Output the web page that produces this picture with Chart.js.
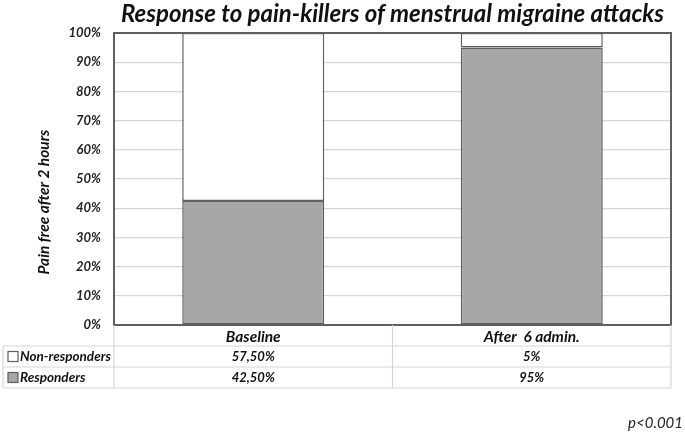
<!DOCTYPE html>
<html>
<head>
<meta charset="utf-8">
<script src="https://cdn.jsdelivr.net/npm/chart.js@4.4.0/dist/chart.umd.min.js"></script>
<style>
  html, body { margin: 0; padding: 0; background: #fff; }
  #wrap { width: 685px; height: 433px; }
</style>
</head>
<body>
<div id="wrap"><canvas id="chart" width="685" height="433"></canvas></div>
<script>
// data
var categories = ['Baseline', 'After  6 admin.'];
var responders = [42.5, 95];
var nonResponders = [57.5, 5];
var yTicks = [0, 10, 20, 30, 40, 50, 60, 70, 80, 90, 100];

var chartTitle = 'Response to pain-killers of menstrual migraine attacks';
var yTitle = 'Pain free after 2 hours';
var pValue = 'p<0.001';

var FONT = 'Lato, "Open Sans", sans-serif';
var EDGE = '#5f5f5f';
var GRID = '#d6d6d6';

function fmt(v) {
    return Number.isInteger(v) ? v + '%' : v.toFixed(2).replace('.', ',') + '%';
}

// title, plot frame, axis title, data table and p value
var extras = {
    id: 'extras',
    beforeDatasetsDraw: function(chart) {
        var ctx = chart.ctx;
        var a = chart.chartArea;
        ctx.save();
        ctx.strokeStyle = EDGE;
        ctx.lineWidth = 2;
        ctx.strokeRect(a.left, a.top, a.right - a.left, a.bottom - a.top);
        ctx.restore();
    },
    afterDraw: function(chart) {
        var ctx = chart.ctx;
        var a = chart.chartArea;
        var x = chart.scales.x;
        ctx.save();

        // title
        ctx.fillStyle = '#111';
        ctx.font = 'italic bold 24px ' + FONT;
        ctx.textAlign = 'center';
        ctx.textBaseline = 'middle';
        ctx.fillText(chartTitle, (a.left + a.right) / 2, 14);

        // y axis title
        ctx.save();
        ctx.translate(44, 202);
        ctx.rotate(-Math.PI / 2);
        ctx.font = 'italic bold 15.5px ' + FONT;
        ctx.fillText(yTitle, 0, 0);
        ctx.restore();

        // table grid
        var rowH = 21;
        var r0 = a.bottom, r1 = r0 + rowH, r2 = r1 + rowH, r3 = r2 + rowH;
        var mid = (x.getPixelForValue(0) + x.getPixelForValue(1)) / 2;
        var tl = 3;
        ctx.strokeStyle = GRID;
        ctx.lineWidth = 1.2;
        ctx.beginPath();
        [r1, r2, r3].forEach(function(y) { ctx.moveTo(tl, y); ctx.lineTo(a.right, y); });
        ctx.moveTo(tl, r1); ctx.lineTo(tl, r3);
        [a.left, mid, a.right].forEach(function(xx) { ctx.moveTo(xx, r0); ctx.lineTo(xx, r3); });
        ctx.stroke();

        // category labels
        ctx.fillStyle = '#111';
        ctx.font = 'italic bold 15.5px ' + FONT;
        categories.forEach(function(c, i) {
            ctx.fillText(c, x.getPixelForValue(i), r0 + rowH / 2 + 1);
        });

        // rows: legend key + values
        var rows = [
            { label: 'Non-responders', fill: '#ffffff', vals: nonResponders, y: r1 + rowH / 2 },
            { label: 'Responders', fill: '#a6a6a6', vals: responders, y: r2 + rowH / 2 }
        ];
        rows.forEach(function(r) {
            ctx.fillStyle = r.fill;
            ctx.fillRect(8, r.y - 5, 10, 10);
            ctx.strokeStyle = EDGE;
            ctx.lineWidth = 1.2;
            ctx.strokeRect(8, r.y - 5, 10, 10);
            ctx.fillStyle = '#111';
            ctx.textAlign = 'left';
            ctx.font = 'italic bold 13.5px ' + FONT;
            ctx.fillText(r.label, 20, r.y);
            ctx.textAlign = 'center';
            ctx.font = 'italic bold 13px ' + FONT;
            r.vals.forEach(function(v, i) {
                ctx.fillText(fmt(v), x.getPixelForValue(i), r.y);
            });
        });

        // p value
        ctx.textAlign = 'right';
        ctx.font = 'italic 15px ' + FONT;
        ctx.fillStyle = '#222';
        ctx.fillText(pValue, 683, 423);
        ctx.restore();
    }
};

new Chart(document.getElementById('chart'), {
    type: 'bar',
    data: {
        labels: categories,
        datasets: [{
            label: 'Responders',
            data: responders,
            backgroundColor: '#a6a6a6',
            borderColor: EDGE,
            borderWidth: 1.5,
            borderSkipped: false
        }, {
            label: 'Non-responders',
            data: nonResponders,
            backgroundColor: '#ffffff',
            borderColor: EDGE,
            borderWidth: 1.5,
            borderSkipped: false
        }]
    },
    options: {
        responsive: false,
        animation: false,
        layout: { padding: { top: 33, right: 14, bottom: 100, left: 0 } },
        datasets: { bar: { categoryPercentage: 1, barPercentage: 0.51 } },
        plugins: {
            legend: { display: false },
            tooltip: { enabled: false }
        },
        scales: {
            x: {
                stacked: true,
                grid: { display: false },
                border: { display: false },
                ticks: { display: false }
            },
            y: {
                stacked: true,
                min: 0,
                max: 100,
                afterFit: function(scale) { scale.width = 114; },
                afterBuildTicks: function(scale) {
                    scale.ticks = yTicks.map(function(v) { return { value: v }; });
                },
                grid: { color: GRID, lineWidth: 1.2, drawTicks: false },
                border: { display: false },
                ticks: {
                    padding: 13,
                    color: '#222',
                    font: { family: FONT, size: 13, style: 'italic', weight: 'bold' },
                    callback: function(v) { return v + '%'; }
                }
            }
        }
    },
    plugins: [extras]
});
</script>
</body>
</html>
